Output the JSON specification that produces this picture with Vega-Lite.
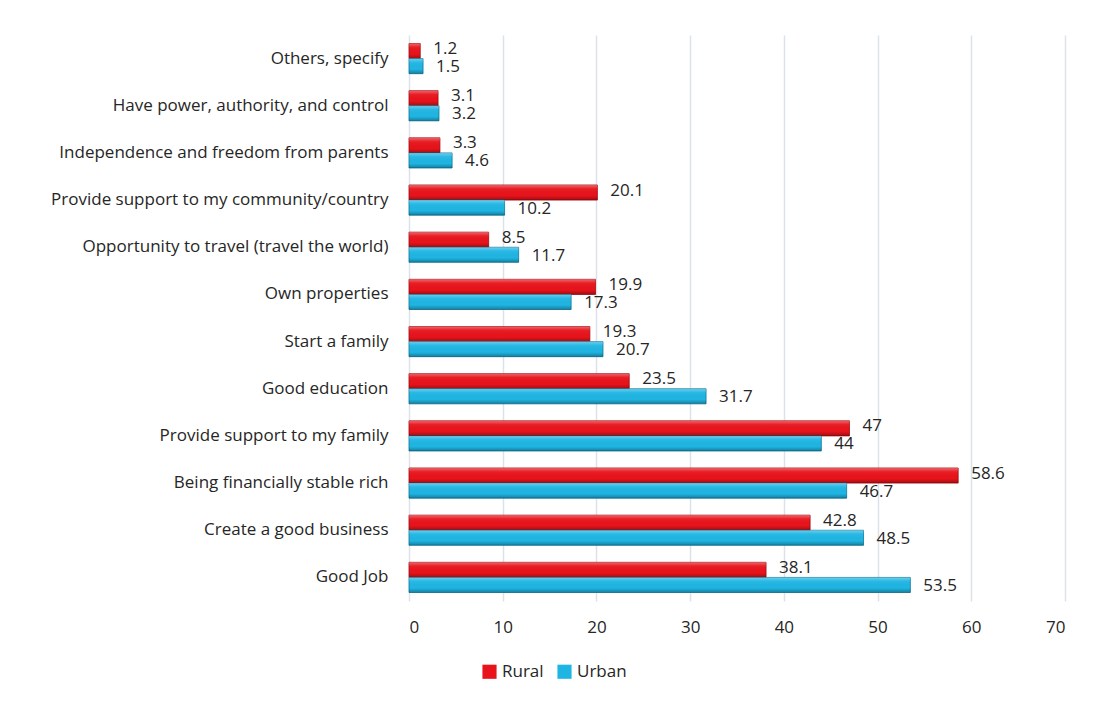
{
  "$schema": "https://vega.github.io/schema/vega-lite/v6.json",
  "autosize": "none",
  "width": 656,
  "height": 566,
  "padding": {"left": 409, "top": 35, "right": 35, "bottom": 100},
  "background": "#ffffff",
  "config": {
    "font": "Open Sans",
    "view": {"stroke": null}
  },
  "data": {
    "values": [
      {"cat": "Others, specify", "series": "Rural", "value": 1.2},
      {"cat": "Others, specify", "series": "Urban", "value": 1.5},
      {"cat": "Have power, authority, and control", "series": "Rural", "value": 3.1},
      {"cat": "Have power, authority, and control", "series": "Urban", "value": 3.2},
      {"cat": "Independence and freedom from parents", "series": "Rural", "value": 3.3},
      {"cat": "Independence and freedom from parents", "series": "Urban", "value": 4.6},
      {"cat": "Provide support to my community/country", "series": "Rural", "value": 20.1},
      {"cat": "Provide support to my community/country", "series": "Urban", "value": 10.2},
      {"cat": "Opportunity to travel (travel the world)", "series": "Rural", "value": 8.5},
      {"cat": "Opportunity to travel (travel the world)", "series": "Urban", "value": 11.7},
      {"cat": "Own properties", "series": "Rural", "value": 19.9},
      {"cat": "Own properties", "series": "Urban", "value": 17.3},
      {"cat": "Start a family", "series": "Rural", "value": 19.3},
      {"cat": "Start a family", "series": "Urban", "value": 20.7},
      {"cat": "Good education", "series": "Rural", "value": 23.5},
      {"cat": "Good education", "series": "Urban", "value": 31.7},
      {"cat": "Provide support to my family", "series": "Rural", "value": 47},
      {"cat": "Provide support to my family", "series": "Urban", "value": 44},
      {"cat": "Being financially stable rich", "series": "Rural", "value": 58.6},
      {"cat": "Being financially stable rich", "series": "Urban", "value": 46.7},
      {"cat": "Create a good business", "series": "Rural", "value": 42.8},
      {"cat": "Create a good business", "series": "Urban", "value": 48.5},
      {"cat": "Good Job", "series": "Rural", "value": 38.1},
      {"cat": "Good Job", "series": "Urban", "value": 53.5}
    ]
  },
  "encoding": {
    "y": {
      "field": "cat",
      "type": "nominal",
      "sort": null,
      "scale": {"paddingInner": 0.36, "paddingOuter": 0.18},
      "axis": {
        "title": null,
        "ticks": false,
        "domain": false,
        "labelPadding": 21,
        "labelFontSize": 17,
        "labelColor": "#262626",
        "labelLimit": 500
      }
    },
    "x": {
      "field": "value",
      "type": "quantitative",
      "scale": {"domain": [0, 70], "nice": false},
      "axis": {
        "title": null,
        "values": [0, 10, 20, 30, 40, 50, 60, 70],
        "ticks": false,
        "domain": false,
        "grid": true,
        "gridColor": "#dce1ea",
        "gridWidth": 1.5,
        "labelPadding": 18,
        "labelFontSize": 17,
        "labelColor": "#262626"
      }
    },
    "yOffset": {"field": "series", "type": "nominal", "sort": ["Rural", "Urban"]}
  },
  "layer": [
    {
      "mark": {"type": "bar", "strokeWidth": 0.8},
      "encoding": {
        "color": {
          "field": "series",
          "type": "nominal",
          "scale": {"domain": ["Rural", "Urban"], "range": ["#e8131b", "#1fb5e3"]},
          "legend": {
            "title": null,
            "orient": "none",
            "direction": "horizontal",
            "legendX": 72,
            "legendY": 628,
            "symbolType": "square",
            "symbolSize": 200,
            "symbolStrokeWidth": 0,
            "labelFontSize": 17,
            "labelColor": "#262626",
            "columnPadding": 12,
            "labelOffset": 4
          }
        },
        "stroke": {
          "field": "series",
          "type": "nominal",
          "scale": {"domain": ["Rural", "Urban"], "range": ["#a30a0f", "#13789c"]},
          "legend": null
        }
      }
    },
    {
      "mark": {
        "type": "bar",
        "fill": {
          "gradient": "linear",
          "x1": 0, "y1": 0, "x2": 0, "y2": 1,
          "stops": [
            {"offset": 0, "color": "rgba(255,255,255,0.35)"},
            {"offset": 0.25, "color": "rgba(255,255,255,0.05)"},
            {"offset": 0.7, "color": "rgba(0,0,0,0)"},
            {"offset": 1, "color": "rgba(0,0,0,0.3)"}
          ]
        }
      }
    },
    {
      "transform": [{"filter": "datum.series === 'Rural'"}],
      "mark": {"type": "text", "align": "left", "baseline": "middle", "dx": 13, "dy": -2, "fontSize": 17, "color": "#262626"},
      "encoding": {"text": {"field": "value", "type": "quantitative"}}
    },
    {
      "transform": [{"filter": "datum.series === 'Urban'"}],
      "mark": {"type": "text", "align": "left", "baseline": "middle", "dx": 13, "dy": 1, "fontSize": 17, "color": "#262626"},
      "encoding": {"text": {"field": "value", "type": "quantitative"}}
    }
  ]
}
